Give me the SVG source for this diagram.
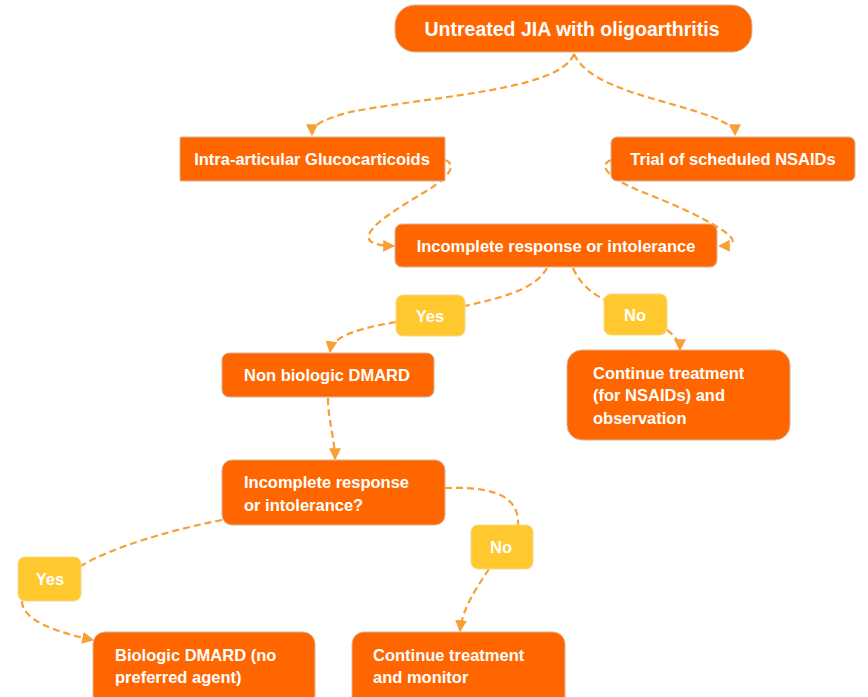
<svg xmlns="http://www.w3.org/2000/svg" width="868" height="697" viewBox="0 0 868 697">
<defs>
<marker id="arr" viewBox="0 0 10 10" refX="9" refY="5" markerWidth="12" markerHeight="12" markerUnits="userSpaceOnUse" orient="auto">
<path d="M0,0 L10,5 L0,10 Z" fill="#F8A035"/>
</marker>
<style>
.box{fill:#FF6600;stroke:#D9B49A;stroke-width:1}
.lbl{fill:#FFC82E;stroke:#F5D98A;stroke-width:1}
.t{font-family:"Liberation Sans",Arial,sans-serif;font-weight:bold;fill:#FFFFFF;font-size:16.5px}
.c{text-anchor:middle}
.con{fill:none;stroke:#F8A035;stroke-width:2.2;stroke-dasharray:7 4}
</style>
</defs>
<rect width="868" height="697" fill="#FFFFFF"/>
<g id="connectors">
<path class="con" d="M574,54 C560,90 440,95 350,112 C320,120 312,126 312,135" marker-end="url(#arr)"/>
<path class="con" d="M574,54 C590,90 670,100 715,118 C730,125 735,128 735,135" marker-end="url(#arr)"/>
<path class="con" d="M445,160 C456,164 452,175 428,190 S330,245 394,246" marker-end="url(#arr)"/>
<path class="con" d="M611,160 C598,165 605,178 650,195 C700,215 760,245 719,246" marker-end="url(#arr)"/>
<path class="con" d="M547,268 C535,290 500,298 465,306"/>
<path class="con" d="M396,322 C350,330 332,338 330,352" marker-end="url(#arr)"/>
<path class="con" d="M573,268 C580,285 595,295 605,300"/>
<path class="con" d="M667,330 C675,336 680,342 680,350" marker-end="url(#arr)"/>
<path class="con" d="M328,398 C328,420 335,440 335,459" marker-end="url(#arr)"/>
<path class="con" d="M445,488 C480,487 520,490 518,525"/>
<path class="con" d="M489,569 C475,590 462,610 460,631" marker-end="url(#arr)"/>
<path class="con" d="M222,520 C170,530 110,548 81,566"/>
<path class="con" d="M22,601 C22,620 55,632 93,640" marker-end="url(#arr)"/>
</g>
<g id="n-untreated">
<rect class="box" x="395" y="5" width="357" height="47" rx="20"/>
<text class="t c" x="572" y="36" style="font-size:19.5px">Untreated JIA with oligoarthritis</text>
</g>
<g id="n-intra">
<rect class="box" x="180" y="137" width="265" height="44" rx="1"/>
<text class="t c" x="312" y="165">Intra-articular Glucocarticoids</text>
</g>
<g id="n-nsaids">
<rect class="box" x="611" y="137" width="244" height="44" rx="6"/>
<text class="t c" x="733" y="165">Trial of scheduled NSAIDs</text>
</g>
<g id="n-incomplete1">
<rect class="box" x="395" y="224" width="322" height="43" rx="7"/>
<text class="t c" x="556" y="252">Incomplete response or intolerance</text>
</g>
<g id="l-yes1">
<rect class="lbl" x="396" y="295" width="69" height="41" rx="7"/>
<text class="t c" x="430" y="322">Yes</text>
</g>
<g id="l-no1">
<rect class="lbl" x="604" y="294" width="63" height="41" rx="7"/>
<text class="t c" x="635" y="321">No</text>
</g>
<g id="n-nonbio">
<rect class="box" x="222" y="353" width="212" height="44" rx="7"/>
<text class="t c" x="327" y="381">Non biologic DMARD</text>
</g>
<g id="n-continue1">
<rect class="box" x="567" y="350" width="223" height="90" rx="15"/>
<text class="t" x="593" y="379">Continue treatment</text>
<text class="t" x="593" y="401">(for NSAIDs) and</text>
<text class="t" x="593" y="424">observation</text>
</g>
<g id="n-incomplete2">
<rect class="box" x="222" y="460" width="223" height="65" rx="10"/>
<text class="t" x="244" y="488">Incomplete response</text>
<text class="t" x="244" y="511">or intolerance?</text>
</g>
<g id="l-no2">
<rect class="lbl" x="471" y="525" width="62" height="44" rx="7"/>
<text class="t c" x="501" y="553">No</text>
</g>
<g id="l-yes2">
<rect class="lbl" x="18" y="557" width="63" height="44" rx="7"/>
<text class="t c" x="50" y="585">Yes</text>
</g>
<g id="n-biologic">
<rect class="box" x="93" y="632" width="222" height="80" rx="12"/>
<text class="t" x="115" y="661">Biologic DMARD (no</text>
<text class="t" x="115" y="683">preferred agent)</text>
</g>
<g id="n-continue2">
<rect class="box" x="352" y="632" width="213" height="80" rx="12"/>
<text class="t" x="373" y="661">Continue treatment</text>
<text class="t" x="373" y="683">and monitor</text>
</g>
</svg>
